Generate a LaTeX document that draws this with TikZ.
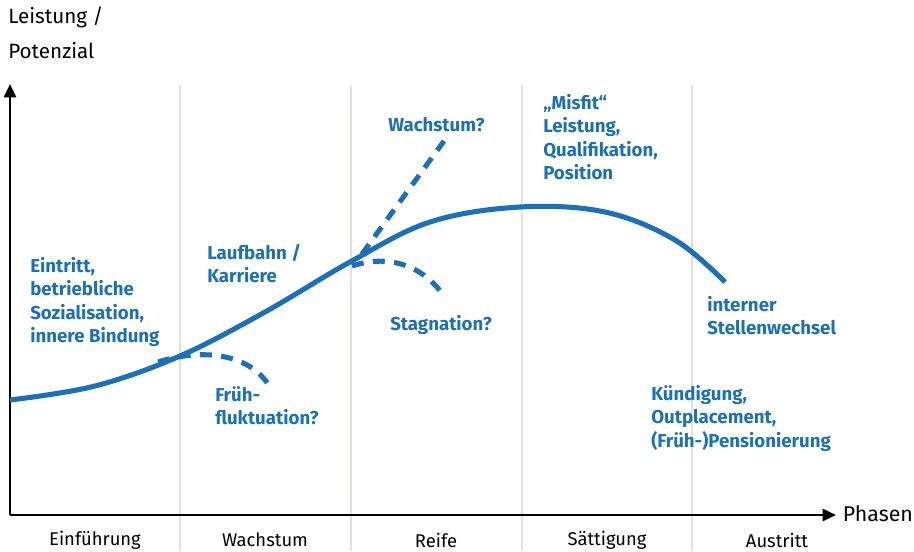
\documentclass[tikz,border=0pt]{standalone}
\usepackage{fontspec}
\setmainfont{Fira Sans}
\usepackage{tikz}
\usetikzlibrary{arrows.meta,positioning}
\definecolor{lblue}{RGB}{28,112,186}
\definecolor{lgray}{RGB}{226,226,220}

\begin{document}
\begin{tikzpicture}[x=0.75pt, y=-0.75pt,
  axis/.style={line width=2pt, -{Triangle[length=10pt,width=9pt]}},
  phase/.style={draw=lgray, line width=1pt},
  curve/.style={lblue, line width=3.8pt},
  branch/.style={lblue, line width=3.8pt, dash pattern=on 9pt off 7pt},
  lbl/.style={lblue, font=\fontsize{14}{17.6}\selectfont\bfseries, align=left, anchor=north west, inner sep=0pt},
  txt/.style={font=\fontsize{13.8}{17}\selectfont, inner sep=0pt}]
\useasboundingbox (0,0) rectangle (914,551);
% phase separators
\foreach \x in {180,351,522,692}
  \draw[phase] (\x,85) -- (\x,551);
% axes
\coordinate (o) at (10,515);
\coordinate (ytop) at (10,84);
\coordinate (xend) at (836,515);
\draw[axis] (o) -- (ytop);
\draw[axis] (o) -- (xend);
\node[txt, font=\fontsize{15.5}{26}\selectfont, anchor=north west, align=left] (ylab) at (8,7) {Leistung /\\Potenzial};
\node[txt, font=\fontsize{16}{20}\selectfont, anchor=west] (xlab) at (xend) [xshift=5pt, yshift=1pt] {Phasen};
% phase names
\node[txt] (p1) at (95,540) {Einführung};
\node[txt] (p2) at (265,540) {Wachstum};
\node[txt] (p3) at (436,540) {Reife};
\node[txt] (p4) at (607,540) {Sättigung};
\node[txt] (p5) at (777,540) {Austritt};
% main curve
\draw[curve] plot[smooth, tension=0.6] coordinates {(10,400) (95,386) (180,356) (265,312) (350,262) (430,222) (520,207) (605,212) (675,240) (725,282)};
% branches
\draw[branch] (158,362) .. controls (195,350) and (245,350) .. (268,384);
\draw[branch] (362,254) -- (444,141);
\draw[branch] (352,266) .. controls (385,255) and (420,262) .. (444,296);
% labels
\node[lbl] (l1) at (30,257) {Eintritt,\\betriebliche\\Sozialisation,\\innere Bindung};
\node[lbl] (l2) at (207,244) {Laufbahn /\\Karriere};
\node[lbl] (l3) at (215,386) {Früh-\\fluktuation?};
\node[lbl] (l4) at (388,117) {Wachstum?};
\node[lbl] (l5) at (390,315) {Stagnation?};
\node[lbl] (l6) at (543,94) {„Misfit“\\Leistung,\\Qualifikation,\\Position};
\node[lbl] (l7) at (707,296) {interner\\Stellenwechsel};
\node[lbl] (l8) at (651,385) {Kündigung,\\Outplacement,\\(Früh-)Pensionierung};
\end{tikzpicture}
\end{document}
